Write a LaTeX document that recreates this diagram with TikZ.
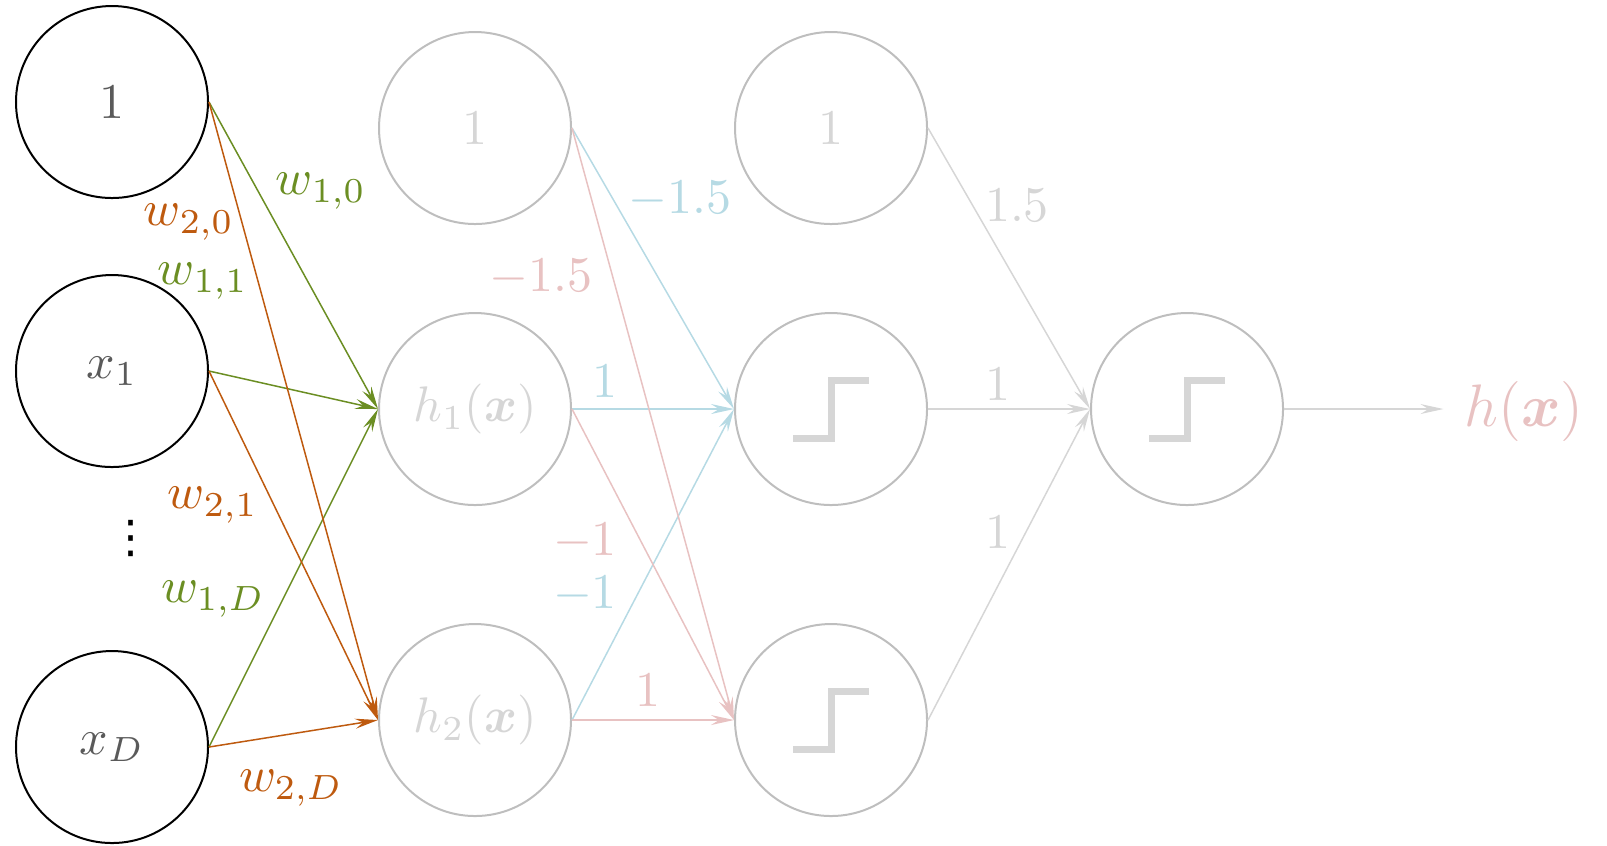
\documentclass[tikz,border=0pt]{standalone}
\usepackage{amsmath,amssymb}
\usepackage{fontspec}
\newfontfamily\dotsfont{DejaVu Sans}
\usepackage{tikz}
\usetikzlibrary{arrows.meta, positioning}
\usepackage{xcolor}

\definecolor{wone}{RGB}{107,142,35}
\definecolor{wtwo}{RGB}{190,90,15}
\definecolor{paleblue}{RGB}{182,218,228}
\definecolor{palepink}{RGB}{232,194,194}
\definecolor{ringgray}{RGB}{190,190,190}
\definecolor{fadegray}{RGB}{214,214,214}
\definecolor{inkgray}{RGB}{90,90,90}

\begin{document}
\begin{tikzpicture}[
  x=0.2pt, y=-0.2pt,
  neuron/.style={draw, circle, minimum size=38.4pt, inner sep=0pt, line width=0.4pt},
  input/.style={neuron, text=inkgray},
  hidden/.style={neuron, draw=ringgray, text=fadegray},
  stepnode/.style={hidden, path picture={
      \draw[fadegray, line width=1.4pt]
        ([shift={(-7.6pt,-5.8pt)}]path picture bounding box.center)
        -- ++(7.6pt,0pt) -- ++(0pt,11.6pt) -- ++(7.6pt,0pt);}},
  link/.style={->, line width=0.3pt},
  >={Stealth[length=4.6pt, width=2pt, inset=1.6pt]},
  node distance=32.4pt
]
  \useasboundingbox (0,0) rectangle (1607,845);

  % inputs
  \node[input] (one) at (112,102) {$1$};
  \node[input] (xa)  at (112,371) {$x_1$};
  \node[input] (xd)  at (112,747) {$x_D$};
  \node[font=\dotsfont\fontsize{9pt}{9pt}\selectfont] (dots) at (131,538) {⋮};

  % hidden layer
  \node[hidden] (bias) at (475,128) {$1$};
  \node[hidden] (ha)   at (475,409) {$h_1(\boldsymbol{x})$};
  \node[hidden] (hb)   at (475,720) {$h_2(\boldsymbol{x})$};

  % step units
  \node[hidden,   right=of bias] (biasb) {$1$};
  \node[stepnode, right=of ha]   (sa) {};
  \node[stepnode, right=of hb]   (sb) {};
  \node[stepnode, right=of sa]   (out) {};
  \node[text=palepink, font=\large, inner sep=1pt] (hx) at (1524,411) {$h(\boldsymbol{x})$};

  % first layer weights
  \draw[link, wone] (one.east) -- (ha.west);
  \draw[link, wone] (xa.east)  -- (ha.west);
  \draw[link, wone] (xd.east)  -- (ha.west);
  \draw[link, wtwo] (one.east) -- (hb.west);
  \draw[link, wtwo] (xa.east)  -- (hb.west);
  \draw[link, wtwo] (xd.east)  -- (hb.west);

  \node[text=wone] (w10) at (321,191) {$w_{1,0}$};
  \node[text=wtwo] (w20) at (189,222) {$w_{2,0}$};
  \node[text=wone] (w11) at (203,281) {$w_{1,1}$};
  \node[text=wtwo] (w21) at (213,505) {$w_{2,1}$};
  \node[text=wone] (w1D) at (213,599) {$w_{1,D}$};
  \node[text=wtwo] (w2D) at (291,788) {$w_{2,D}$};

  % second layer
  \draw[link, paleblue] (bias.east) -- (sa.west);
  \draw[link, paleblue] (ha.east)   -- (sa.west);
  \draw[link, paleblue] (hb.east)   -- (sa.west);
  \draw[link, palepink] (bias.east) -- (sb.west);
  \draw[link, palepink] (ha.east)   -- (sb.west);
  \draw[link, palepink] (hb.east)   -- (sb.west);

  \node[text=paleblue] (vb15) at (680,199) {$-1.5$};
  \node[text=palepink] (vp15) at (541,277) {$-1.5$};
  \node[text=paleblue] (vb1)  at (605,381) {$1$};
  \node[text=palepink] (vp1m) at (585,541) {$-1$};
  \node[text=paleblue] (vb1m) at (585,594) {$-1$};
  \node[text=palepink] (vp1)  at (648,690) {$1$};

  % output unit
  \draw[link, fadegray] (biasb.east) -- (out.west);
  \draw[link, fadegray] (sa.east)    -- (out.west);
  \draw[link, fadegray] (sb.east)    -- (out.west);
  \draw[link, fadegray, shorten >=3pt] (out.east) -- (out.east -| hx.west);

  \node[text=fadegray] (u15) at (1017,205) {$1.5$};
  \node[text=fadegray] (u1a) at (998,384)  {$1$};
  \node[text=fadegray] (u1b) at (998,532)  {$1$};
\end{tikzpicture}
\end{document}
